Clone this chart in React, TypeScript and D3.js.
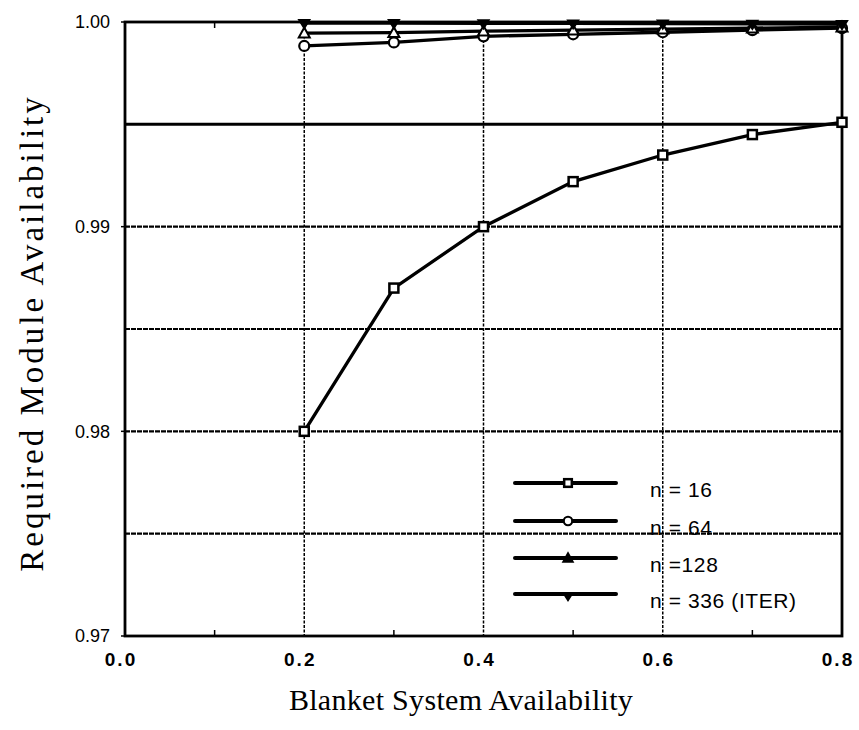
import React from "react";
import * as d3 from "d3";

const xValues = [0.2, 0.3, 0.4, 0.5, 0.6, 0.7, 0.8];
const n16 = [0.98, 0.987, 0.990, 0.9922, 0.9935, 0.9945, 0.9951];
const n64 = [0.99883, 0.999, 0.9993, 0.9994, 0.9995, 0.9996, 0.9997];
const n128 = [0.99946, 0.99948, 0.99955, 0.9996, 0.99965, 0.9997, 0.99975];
const n336 = [0.99995, 0.99995, 0.99994, 0.99993, 0.99992, 0.99991, 0.9999];
const xTicks = [0.0, 0.2, 0.4, 0.6, 0.8];
const xMinorTicks = [0.1, 0.3, 0.5, 0.7];
const yTicks = [0.97, 0.98, 0.99, 1.0];
const yGrid = [0.975, 0.98, 0.985, 0.99];
const ySolidGrid = [0.995];
const legendLabels = ["n = 16", "n = 64", "n =128", "n = 336 (ITER)"];

const W = 859;
const H = 730;

export default function App() {
  const x = d3.scaleLinear().domain([0, 0.8]).range([125, 842]);
  const y = d3.scaleLinear().domain([0.97, 1.0]).range([636, 22]);
  const line = d3
    .line<[number, number]>()
    .x((d) => x(d[0]))
    .y((d) => y(d[1]));
  const series = [n16, n64, n128, n336];
  const markers = ["square", "circle", "triUp", "triDown"];

  const drawMarker = (type: string, cx: number, cy: number, key: string, small = false) => {
    const s = small ? 0.85 : 1;
    if (type === "square") {
      const a = 9 * s;
      return (
        <rect key={key} x={cx - a / 2} y={cy - a / 2} width={a} height={a} fill="#fff" stroke="#000" strokeWidth={2.5} />
      );
    }
    if (type === "circle") {
      return <circle key={key} cx={cx} cy={cy} r={5 * s} fill="#fff" stroke="#000" strokeWidth={2.2} />;
    }
    if (type === "triUp") {
      const a = 5.5 * s;
      return (
        <path
          key={key}
          d={`M${cx},${cy - a}L${cx + a},${cy + a * 0.8}L${cx - a},${cy + a * 0.8}Z`}
          fill={small ? "#000" : "#fff"}
          stroke="#000"
          strokeWidth={2}
        />
      );
    }
    const a = 5.5 * s;
    return (
      <path
        key={key}
        d={`M${cx},${cy + a}L${cx + a},${cy - a * 0.6}L${cx - a},${cy - a * 0.6}Z`}
        fill="#000"
        stroke="#000"
        strokeWidth={1.5}
      />
    );
  };

  const legendX0 = 515;
  const legendX1 = 616;
  const legendYs = [483, 521, 558, 594];

  return (
    <svg
      width={W}
      height={H}
      style={{ position: "absolute", left: 0, top: 0, background: "#fff" }}
    >
      <rect x={0} y={0} width={W} height={H} fill="#fff" />
      {/* horizontal dotted grid */}
      {yGrid.map((v) => (
        <line
          key={"hg" + v}
          x1={x(0)}
          x2={x(0.8)}
          y1={y(v)}
          y2={y(v)}
          stroke="#000"
          strokeWidth={2.2}
          strokeDasharray="5,1"
        />
      ))}
      {ySolidGrid.map((v) => (
        <line key={"hs" + v} x1={x(0)} x2={x(0.8)} y1={y(v)} y2={y(v)} stroke="#000" strokeWidth={3} />
      ))}
      {/* vertical dotted grid */}
      {[0.2, 0.4, 0.6].map((v) => (
        <line
          key={"vg" + v}
          x1={x(v)}
          x2={x(v)}
          y1={y(1)}
          y2={y(0.97)}
          stroke="#000"
          strokeWidth={1.5}
          strokeDasharray="3,1.5"
        />
      ))}
      {/* frame */}
      <rect x={x(0)} y={y(1)} width={x(0.8) - x(0)} height={y(0.97) - y(1)} fill="none" stroke="#000" strokeWidth={2.8} />
      {/* minor ticks */}
      {xMinorTicks.map((v) => (
        <g key={"xm" + v}>
          <line x1={x(v)} x2={x(v)} y1={y(0.97)} y2={y(0.97) - 6} stroke="#000" strokeWidth={1.5} />
          <line x1={x(v)} x2={x(v)} y1={y(1)} y2={y(1) + 6} stroke="#000" strokeWidth={1.5} />
        </g>
      ))}
      {yTicks.map((v) => (
        <line key={"yt" + v} x1={x(0) - 4} x2={x(0)} y1={y(v)} y2={y(v)} stroke="#000" strokeWidth={1.5} />
      ))}
      {/* series */}
      {series.map((s, i) => (
        <path
          key={"s" + i}
          d={line(xValues.map((xv, j) => [xv, s[j]] as [number, number])) || ""}
          fill="none"
          stroke="#000"
          strokeWidth={3.3}
        />
      ))}
      {series.map((s, i) => (
        <g key={"m" + i}>{xValues.map((xv, j) => drawMarker(markers[i], x(xv), y(s[j]), `m${i}-${j}`))}</g>
      ))}
      {/* tick labels */}
      {yTicks.map((v) => (
        <text
          key={"yl" + v}
          x={x(0) - 15}
          y={y(v)}
          dy="0.36em"
          textAnchor="end"
          fontFamily="Liberation Sans, Arial, sans-serif"
          fontSize={18}
          fill="#000"
        >
          {v.toFixed(2)}
        </text>
      ))}
      {xTicks.map((v) => (
        <text
          key={"xl" + v}
          x={x(v) - 4}
          y={y(0.97) + 30}
          textAnchor="middle"
          fontFamily="Liberation Sans, Arial, sans-serif"
          fontSize={19}
          fontWeight="bold"
          letterSpacing={2}
          fill="#000"
        >
          {v.toFixed(1)}
        </text>
      ))}
      {/* axis titles */}
      <text
        x={461}
        y={710}
        textAnchor="middle"
        fontFamily="Liberation Serif, Times New Roman, serif"
        fontSize={30}
        letterSpacing={0.3}
        fill="#000"
      >
        Blanket System Availability
      </text>
      <text
        transform={`translate(43, 333) rotate(-90)`}
        textAnchor="middle"
        fontFamily="Liberation Serif, Times New Roman, serif"
        fontSize={33}
        letterSpacing={3}
        fill="#000"
      >
        Required Module Availability
      </text>
      {/* legend */}
      {legendLabels.map((lab, i) => (
        <g key={"lg" + i}>
          <line x1={legendX0} x2={legendX1} y1={legendYs[i]} y2={legendYs[i]} stroke="#000" strokeWidth={4} strokeLinecap="round" />
          {drawMarker(markers[i], 568, legendYs[i] + (i === 3 ? 2 : 0), "lm" + i, true)}
          <text
            x={650}
            y={legendYs[i] + 14}
            fontFamily="Liberation Sans, Arial, sans-serif"
            fontSize={21}
            letterSpacing={0.6}
            fill="#000"
          >
            {lab}
          </text>
        </g>
      ))}
    </svg>
  );
}
